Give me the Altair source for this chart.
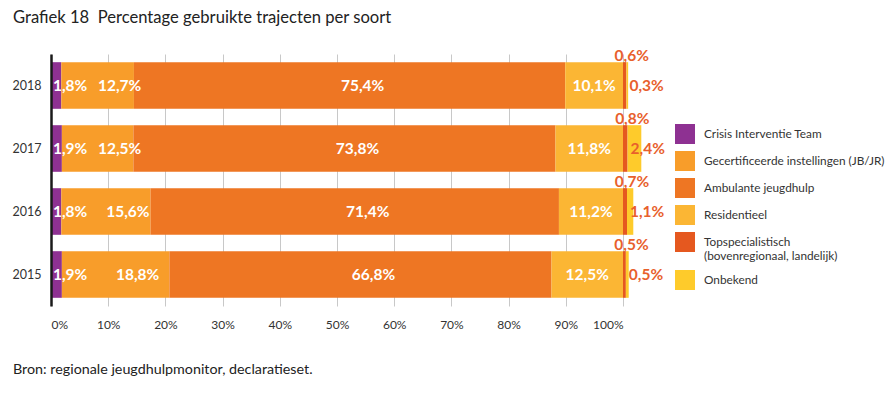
import altair as alt
import pandas as pd

years = ["2018", "2017", "2016", "2015"]
categories = [
    "Crisis Interventie Team",
    "Gecertificeerde instellingen (JB/JR)",
    "Ambulante jeugdhulp",
    "Residentieel",
    "Topspecialistisch (bovenregionaal, landelijk)",
    "Onbekend",
]
colors = ["#8E3192", "#F89D2A", "#EE7623", "#FBB634", "#E5581F", "#FECB2B"]
crisis = [1.8, 1.9, 1.8, 1.9]
gecert = [12.7, 12.5, 15.6, 18.8]
ambulant = [75.4, 73.8, 71.4, 66.8]
resid = [10.1, 11.8, 11.2, 12.5]
topspec = [0.6, 0.8, 0.7, 0.5]
onbekend = [0.3, 2.4, 1.1, 0.5]
x_ticks = [0, 10, 20, 30, 40, 50, 60, 70, 80, 90, 100]
title_text = "Grafiek 18\u00a0 Percentage gebruikte trajecten per soort"
source_text = "Bron: regionale jeugdhulpmonitor, declaratieset."

series = [crisis, gecert, ambulant, resid, topspec, onbekend]
rows = []
for ci, (cat, vals) in enumerate(zip(categories, series)):
    for yr, v in zip(years, vals):
        rows.append({"year": yr, "category": cat, "order": ci, "value": v})
df = pd.DataFrame(rows)

FONT = "Lato"
W, H = 572, 252
label_orange = "#E8602C"

base = (
    alt.Chart(df)
    .transform_stack(stack="value", groupby=["year"], sort=[alt.SortField("order")], as_=["x0", "x1"])
    .transform_calculate(
        mid="(datum.x0 + datum.x1) / 2",
        label="replace(format(datum.value, '.1f'), '.', ',') + '%'",
    )
)

y_enc = alt.Y(
    "year:N",
    sort=years,
    scale=alt.Scale(paddingInner=0.26, paddingOuter=0.13),
    axis=alt.Axis(
        title=None, ticks=False, domainColor="#1a1a1a", domainWidth=2.5,
        labelPadding=10, labelFontSize=12.5, labelFont=FONT, labelColor="#333333",
        zindex=1,
    ),
)

x_scale = alt.Scale(domain=[0, 100], nice=False, zero=False)

bars = base.mark_bar(strokeWidth=0).encode(
    x=alt.X(
        "x0:Q",
        scale=x_scale,
        axis=alt.Axis(
            values=x_ticks, labelExpr="datum.value + '%'", grid=True, domain=False,
            ticks=False, gridColor="#c8c8c8", gridWidth=1, labelPadding=13,
            labelFontSize=12, labelFont=FONT, labelColor="#333333", title=None,
        ),
    ),
    x2="x1:Q",
    y=y_enc,
    color=alt.Color(
        "category:N",
        scale=alt.Scale(domain=categories, range=colors),
        legend=alt.Legend(
            orient="none", legendX=624, legendY=70, title=None,
            symbolType="square", symbolSize=400, symbolStrokeWidth=0, symbolOpacity=1,
            labelOffset=9, rowPadding=7, labelFontSize=11.8, labelFont=FONT,
            labelLimit=300, labelColor="#333333", padding=0,
            labelExpr="indexof(datum.label, ' (b') > 0 ? [substring(datum.label, 0, indexof(datum.label, ' (b')), substring(datum.label, indexof(datum.label, ' (b') + 1)] : datum.label",
        ),
    ),
)


def labels(cat, xfield, color, align="center", dx=0, dy=0, baseline="middle"):
    return (
        base.transform_filter(alt.datum.category == cat)
        .mark_text(align=align, baseline=baseline, dx=dx, dy=dy, font=FONT,
                   fontWeight="bold", fontSize=15.5, color=color)
        .encode(x=alt.X(xfield, scale=x_scale), y=alt.Y("year:N", sort=years), text="label:N")
    )


lab_crisis = labels(categories[0], "x0:Q", "white", align="left", dx=2)
lab_gecert = labels(categories[1], "mid:Q", "white", dx=22)
lab_amb = labels(categories[2], "mid:Q", "white", dx=13)
lab_res = labels(categories[3], "mid:Q", "white")
lab_top = labels(categories[4], "mid:Q", label_orange, dx=7, dy=-25, baseline="alphabetic")
lab_onb = labels(categories[5], "x0:Q", label_orange, align="left", dx=3)

title = alt.Chart(pd.DataFrame({"t": [title_text]})).mark_text(
    align="left", baseline="alphabetic", fontSize=16.6, font=FONT, color="#222222"
).encode(text="t:N", x=alt.value(-38), y=alt.value(-31))

source = alt.Chart(pd.DataFrame({"t": [source_text]})).mark_text(
    align="left", baseline="alphabetic", fontSize=14.3, font=FONT, color="#222222"
).encode(text="t:N", x=alt.value(-38), y=alt.value(320))

chart = (
    alt.layer(bars, lab_crisis, lab_gecert, lab_amb, lab_res, lab_top, lab_onb, title, source)
    .properties(
        width=W, height=H,
        autosize=alt.AutoSizeParams(type="none"),
        padding={"left": 43, "top": 46, "right": 264, "bottom": 76},
        background="white",
    )
    .configure_view(stroke=None)
)

chart.save("out.html", embed_options={"renderer": "svg", "actions": False})
